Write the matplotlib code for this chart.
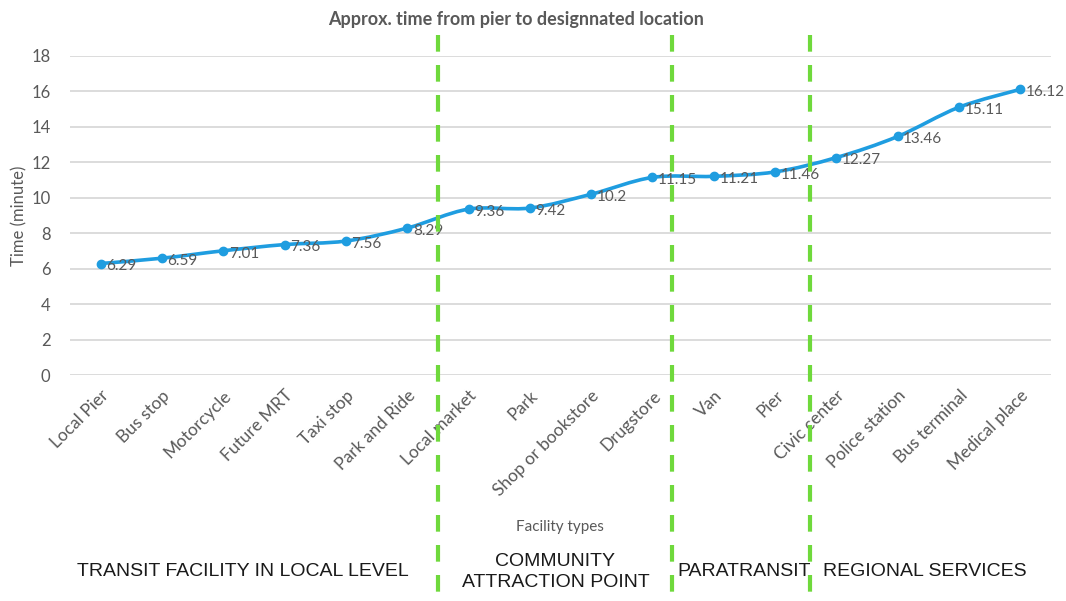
import numpy as np
import matplotlib.pyplot as plt
from matplotlib.path import Path
from matplotlib.patches import PathPatch
from matplotlib.transforms import blended_transform_factory

plt.rcParams['font.family'] = ['Lato', 'DejaVu Sans']

facilities = ['Local Pier', 'Bus stop', 'Motorcycle', 'Future MRT', 'Taxi stop',
              'Park and Ride', 'Local market', 'Park', 'Shop or bookstore', 'Drugstore',
              'Van', 'Pier', 'Civic center', 'Police station', 'Bus terminal',
              'Medical place']
minutes = [6.29, 6.59, 7.01, 7.36, 7.56, 8.29, 9.36, 9.42, 10.2, 11.15,
           11.21, 11.46, 12.27, 13.46, 15.11, 16.12]
value_labels = ['6.29', '6.59', '7.01', '7.36', '7.56', '8.29', '9.36', '9.42', '10.2',
                '11.15', '11.21', '11.46', '12.27', '13.46', '15.11', '16.12']

# group dividers (x in category units) and group names
dividers = [5.5, 9.32, 11.57]
groups = ['TRANSIT FACILITY IN LOCAL LEVEL', 'COMMUNITY\nATTRACTION POINT',
          'PARATRANSIT', 'REGIONAL SERVICES']
group_x = [0.228, 0.521, 0.698, 0.868]

blue = '#1f9de0'
green = '#6fd93c'
grey = '#595959'

fig = plt.figure(figsize=(10.66, 6.01), dpi=100)
ax = fig.add_axes([70 / 1066, 1 - 375 / 601, (1051 - 70) / 1066, (375 - 56) / 601])

x = np.arange(len(minutes))
y = np.array(minutes)

# smoothed line through the points (cubic Bezier with Catmull-Rom tangents)
verts = [(x[0], y[0])]
codes = [Path.MOVETO]
for i in range(len(x) - 1):
    p0 = np.array([x[max(i - 1, 0)], y[max(i - 1, 0)]])
    p1 = np.array([x[i], y[i]])
    p2 = np.array([x[i + 1], y[i + 1]])
    p3 = np.array([x[min(i + 2, len(x) - 1)], y[min(i + 2, len(x) - 1)]])
    c1 = p1 + (p2 - p0) / 6
    c2 = p2 - (p3 - p1) / 6
    verts += [tuple(c1), tuple(c2), tuple(p2)]
    codes += [Path.CURVE4] * 3
ax.add_patch(PathPatch(Path(verts, codes), fill=False, edgecolor=blue, lw=2.6,
                       capstyle='round', joinstyle='round', zorder=3))
ax.plot(x, y, 'o', color=blue, ms=6, zorder=4)

for xi, yi, lab in zip(x, y, value_labels):
    ax.annotate(lab, (xi, yi), xytext=(4, -2), textcoords='offset points',
                ha='left', va='center', fontsize=11, color=grey, zorder=5)

ax.set_xlim(-0.5, len(x) - 0.5)
ax.set_ylim(0, 18)
ax.set_yticks(range(0, 19, 2))
ax.set_xticks(x)
ax.set_xticklabels(facilities, rotation=45, ha='right', rotation_mode='anchor',
                   fontsize=12.5, color=grey)
ax.tick_params(axis='y', labelsize=12, labelcolor=grey, length=0, pad=14)
ax.tick_params(axis='x', length=0, pad=9)
ax.grid(axis='y', color='#d9d9d9', lw=1.3)
ax.set_axisbelow(True)
for s in ax.spines.values():
    s.set_visible(False)

ax.set_ylabel('Time (minute)', fontsize=12, color=grey, labelpad=3)
fig.text(560 / 1066, 1 - 527 / 601, 'Facility types', fontsize=11, color=grey,
         ha='center', va='center')
fig.text(516 / 1066, 1 - 19 / 601, 'Approx. time from pier to designnated location',
         fontsize=13, fontweight='bold', color=grey, ha='center', va='center')

# dashed group dividers running over the whole chart height
trans = blended_transform_factory(ax.transData, fig.transFigure)
for d in dividers:
    ax.plot([d, d], [1 - 35 / 601, 0], transform=trans, color=green, lw=3,
            dashes=(4, 3.2), clip_on=False, zorder=6)

for gx, g in zip(group_x, groups):
    fig.text(gx, 1 - 572 / 601, g, fontsize=14, color='#1a1a1a', ha='center',
             va='center', linespacing=1.35,
             family=['Liberation Sans', 'DejaVu Sans'])

fig.savefig('out.png', dpi=100)
